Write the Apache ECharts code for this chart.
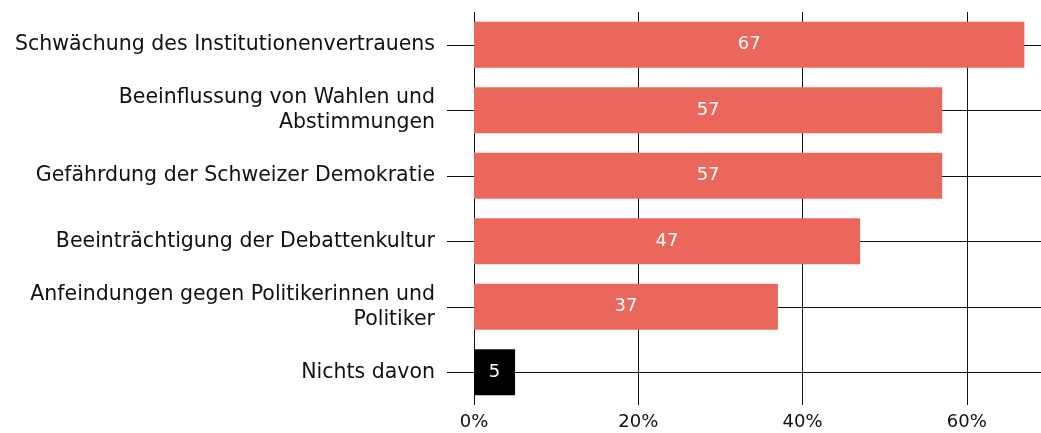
<!DOCTYPE html>
<html><head><meta charset="utf-8">
<script src="https://cdn.jsdelivr.net/npm/echarts@6/dist/echarts.min.js"></script>
<style>html,body{margin:0;padding:0;background:#fff}#c{width:1041px;height:433px}</style>
</head><body><div id="c"></div>
<script>
const categories = [
  "Schwächung des Institutionenvertrauens",
  "Beeinflussung von Wahlen und\nAbstimmungen",
  "Gefährdung der Schweizer Demokratie",
  "Beeinträchtigung der Debattenkultur",
  "Anfeindungen gegen Politikerinnen und\nPolitiker",
  "Nichts davon"
];
const values = [67, 57, 57, 47, 37, 5];
const barColors = ["#ec675b", "#ec675b", "#ec675b", "#ec675b", "#ec675b", "#000000"];
const xTicks = [0, 20, 40, 60];

const FONT = "DejaVu Sans";
const chart = echarts.init(document.getElementById('c'), null, {renderer: 'canvas'});
chart.setOption({
  animation: false,
  grid: {left: 474, width: 575, top: 12, bottom: 28, containLabel: false, outerBoundsMode: 'none'},
  xAxis: {
    type: 'value', min: 0, max: 70, interval: 20,
    axisLine: {show: false}, axisTick: {show: false},
    splitLine: {show: true, lineStyle: {color: '#111', width: 1}},
    axisLabel: {
      color: '#111', fontFamily: FONT, fontSize: 18, margin: 8,
      formatter: v => xTicks.includes(v) ? v + '%' : ''
    }
  },
  yAxis: [{
    type: 'category', data: categories, inverse: true,
    axisLine: {show: false},
    axisTick: {show: true, alignWithLabel: true, length: 27, lineStyle: {color: '#111', width: 1}},
    axisLabel: {color: '#111', fontFamily: FONT, fontSize: 20.5, margin: 39, lineHeight: 25, align: 'right'}
  }, {
    type: 'category', data: categories, inverse: true, position: 'left',
    axisLine: {show: false},
    axisTick: {show: true, inside: true, alignWithLabel: true, length: 600, lineStyle: {color: '#111', width: 1}},
    axisLabel: {show: false}
  }],
  series: [{
    type: 'bar', yAxisIndex: 0,
    data: values.map((v, i) => ({value: v, itemStyle: {color: barColors[i]}})),
    barWidth: '70%',
    label: {show: true, position: 'inside', color: '#fff', fontFamily: FONT, fontSize: 18}
  }]
});
</script></body></html>
